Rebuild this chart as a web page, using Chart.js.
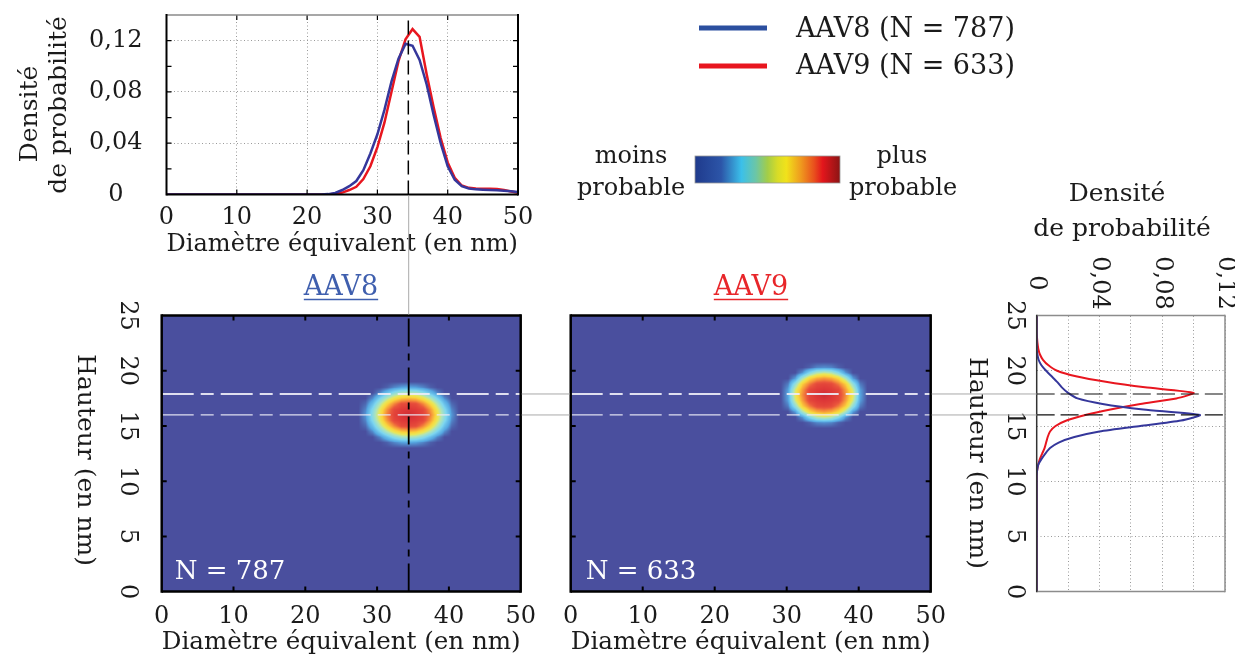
<!DOCTYPE html>
<html lang="fr"><head><meta charset="utf-8"><title>AAV8 / AAV9</title>
<script src="https://cdn.jsdelivr.net/npm/chart.js@4/dist/chart.umd.min.js"></script>
<style>
html,body{margin:0;padding:0;background:#fff;}
#wrap{position:relative;width:1235px;height:657px;overflow:hidden;background:#fff;}
#wrap canvas{position:absolute;left:0;top:0;}
</style></head><body><div id="wrap">
<canvas id="cTop" width="1235" height="657"></canvas>
<canvas id="cH8" width="1235" height="657"></canvas>
<canvas id="cH9" width="1235" height="657"></canvas>
<canvas id="cRight" width="1235" height="657"></canvas>
<canvas id="cOver" width="1235" height="657"></canvas>
</div>
<script>
// ================= DATA =================
const diameters = [0,1,2,3,4,5,6,7,8,9,10,11,12,13,14,15,16,17,18,19,20,21,22,23,24,25,26,27,28,29,30,31,32,33,34,35,36,37,38,39,40,41,42,43,44,45,46,47,48,49,50];
const densDiamAAV8 = [0,0,0,0,0,0,0,0,0,0,0,0,0,0,0,0,0,0,0,0,0,0,0,0.0003,0.0012,0.0035,0.0065,0.0105,0.019,0.032,0.047,0.066,0.088,0.106,0.1175,0.116,0.105,0.086,0.062,0.040,0.022,0.0115,0.0065,0.0047,0.004,0.0037,0.0035,0.0033,0.003,0.0025,0.002];
const densDiamAAV9 = [0,0,0,0,0,0,0,0,0,0,0,0,0,0,0,0,0,0,0,0,0,0,0,0,0.0005,0.0015,0.0035,0.006,0.012,0.022,0.037,0.056,0.080,0.104,0.121,0.129,0.123,0.094,0.068,0.044,0.025,0.013,0.007,0.0052,0.0047,0.0045,0.0044,0.0042,0.0036,0.0024,0.0013];

const heights = [0,0.5,1,1.5,2,2.5,3,3.5,4,4.5,5,5.5,6,6.5,7,7.5,8,8.5,9,9.5,10,10.5,11,11.5,12,12.5,13,13.5,14,14.5,15,15.5,16,16.5,17,17.5,18,18.5,19,19.5,20,20.5,21,21.5,22,22.5,23,23.5,24,24.5,25];
const densHeightAAV8 = [0,0,0,0,0,0,0,0,0,0,0,0,0,0,0,0,0,0,0,0,0,0,0.0003,0.001,0.003,0.0055,0.0085,0.014,0.024,0.040,0.066,0.092,0.104,0.068,0.042,0.026,0.020,0.016,0.013,0.0095,0.006,0.003,0.0012,0.0004,0,0,0,0,0,0,0];
const densHeightAAV9 = [0,0,0,0,0,0,0,0,0,0,0,0,0,0,0,0,0,0,0,0,0,0,0.0003,0.001,0.002,0.0035,0.005,0.006,0.007,0.0085,0.012,0.019,0.031,0.047,0.066,0.089,0.100,0.069,0.044,0.025,0.013,0.0075,0.004,0.002,0.001,0.0005,0.0002,0,0,0,0];

const modeDiameter = 34.4;          // diamètre le plus probable (AAV8)
const modeHeights = [16.0, 17.9];   // hauteur la plus probable : AAV8, AAV9

const diameterTicks = [0,10,20,30,40,50];
const heightTicks = [0,5,10,15,20,25];
const densityTicks = [0,0.04,0.08,0.12];
const densityGridStep = 0.02;

// 2D probability maps (relative level 0-10), rows listed from top (high) to bottom
const mapXAAV8 = [27.4,28.4,29.4,30.4,31.4,32.4,33.4,34.4,35.4,36.4,37.4,38.4,39.4,40.4,41.4];
const mapYAAV8 = [19.0,18.5,18.0,17.5,17.0,16.5,16.0,15.5,15.0,14.5,14.0,13.5,13.0];
const mapAAV8 = [
 [0,0,0,0,0,0,0,0,0,0,0,0,0,0,0],
 [0,0,0,0,0.2,0.6,0.9,1.0,0.9,0.6,0.2,0,0,0,0],
 [0,0,0,0.6,1.6,2.6,3.3,3.5,3.3,2.6,1.6,0.6,0,0,0],
 [0,0,0.7,2.1,3.6,4.9,5.8,6.1,5.8,4.9,3.6,2.1,0.7,0,0],
 [0,0.3,1.6,3.5,5.4,7.1,8.4,8.6,8.4,7.1,5.4,3.5,1.6,0.3,0],
 [0,0.6,2.4,4.5,6.8,8.6,9.1,9.3,9.1,8.6,6.8,4.5,2.4,0.6,0],
 [0,0.8,2.7,4.9,7.3,8.8,9.4,10,9.4,8.8,7.3,4.9,2.7,0.8,0],
 [0,0.6,2.4,4.5,6.8,8.6,9.1,9.3,9.1,8.6,6.8,4.5,2.4,0.6,0],
 [0,0.3,1.6,3.5,5.4,7.1,8.4,8.6,8.4,7.1,5.4,3.5,1.6,0.3,0],
 [0,0,0.7,2.1,3.6,4.9,5.8,6.1,5.8,4.9,3.6,2.1,0.7,0,0],
 [0,0,0,0.6,1.6,2.6,3.3,3.5,3.3,2.6,1.6,0.6,0,0,0],
 [0,0,0,0,0.2,0.6,0.9,1.0,0.9,0.6,0.2,0,0,0,0],
 [0,0,0,0,0,0,0,0,0,0,0,0,0,0,0]
];
const mapXAAV9 = [28.2,29.2,30.2,31.2,32.2,33.2,34.2,35.2,36.2,37.2,38.2,39.2,40.2,41.2,42.2];
const mapYAAV9 = [20.8,20.3,19.8,19.3,18.8,18.3,17.8,17.3,16.8,16.3,15.8,15.3,14.8];
const mapAAV9 = [
 [0,0,0,0,0,0,0,0,0,0,0,0,0,0,0],
 [0,0,0,0,0,0.2,0.6,0.7,0.6,0.2,0,0,0,0,0],
 [0,0,0,0,0.8,2.4,3.6,4.0,3.6,2.4,0.8,0,0,0,0],
 [0,0,0,0.9,3.4,5.4,6.4,6.8,6.4,5.4,3.4,0.9,0,0,0],
 [0,0,0.5,2.8,5.6,7.3,8.5,8.7,8.5,7.3,5.6,2.8,0.5,0,0],
 [0,0,0.9,4.1,6.6,8.6,9.1,9.3,9.1,8.6,6.6,4.1,0.9,0,0],
 [0,0,1.0,4.6,7.0,8.7,9.4,10,9.4,8.7,7.0,4.6,1.0,0,0],
 [0,0,0.9,4.1,6.6,8.6,9.1,9.3,9.1,8.6,6.6,4.1,0.9,0,0],
 [0,0,0.5,2.8,5.6,7.3,8.5,8.7,8.5,7.3,5.6,2.8,0.5,0,0],
 [0,0,0,0.9,3.4,5.4,6.4,6.8,6.4,5.4,3.4,0.9,0,0,0],
 [0,0,0,0,0.8,2.4,3.6,4.0,3.6,2.4,0.8,0,0,0,0],
 [0,0,0,0,0,0.2,0.6,0.7,0.6,0.2,0,0,0,0,0],
 [0,0,0,0,0,0,0,0,0,0,0,0,0,0,0]
];

// ================= STYLE =================
const FONT = "'DejaVu Serif', serif";
const TXT = '#1b1b1b';
const BLUE = '#35379b', RED = '#e8161f', LEG_BLUE = '#2b4f9f';
const HEAT_BG = [74,79,158];
const HEAT_STOPS = [[0,[74,79,158]],[1,[86,168,226]],[2.2,[125,214,240]],[3.5,[175,228,185]],[4.5,[232,231,90]],[5.5,[250,212,60]],[6.8,[246,150,58]],[8,[234,86,60]],[9.2,[222,56,56]],[10,[204,44,50]]];
Chart.defaults.font.family = FONT;
Chart.defaults.color = TXT;

function heatColor(v){
  if (v <= 0) return HEAT_STOPS[0][1];
  for (let i=1;i<HEAT_STOPS.length;i++){
    const [v1,c1] = HEAT_STOPS[i], [v0,c0] = HEAT_STOPS[i-1];
    if (v <= v1){ const t=(v-v0)/(v1-v0); return [0,1,2].map(k=>Math.round(c0[k]+(c1[k]-c0[k])*t)); }
  }
  return HEAT_STOPS[HEAT_STOPS.length-1][1];
}
function sample(g, r, c){
  if (r<0||c<0||r>g.length-1||c>g[0].length-1) return 0;
  const r0=Math.floor(r), c0=Math.floor(c), r1=Math.min(r0+1,g.length-1), c1=Math.min(c0+1,g[0].length-1);
  const fr=r-r0, fc=c-c0;
  return (g[r0][c0]*(1-fc)+g[r0][c1]*fc)*(1-fr)+(g[r1][c0]*(1-fc)+g[r1][c1]*fc)*fr;
}
function heatPlugin(xs, ys, grid){
  return {id:'heat', beforeDatasetsDraw(chart){
    const {ctx, chartArea:a, scales:{x,y}} = chart;
    ctx.save();
    ctx.fillStyle = 'rgb('+HEAT_BG.join(',')+')';
    ctx.fillRect(a.left, a.top, a.right-a.left, a.bottom-a.top);
    const sx = xs[1]-xs[0], sy = ys[1]-ys[0];
    const pxA=Math.floor(x.getPixelForValue(xs[0])), pxB=Math.ceil(x.getPixelForValue(xs[xs.length-1]));
    const pyA=Math.floor(y.getPixelForValue(ys[0])), pyB=Math.ceil(y.getPixelForValue(ys[ys.length-1]));
    const w=pxB-pxA, h=pyB-pyA;
    const off=document.createElement('canvas'); off.width=w; off.height=h;
    const octx=off.getContext('2d'); const img=octx.createImageData(w,h);
    for (let j=0;j<h;j++){
      const fr=(y.getValueForPixel(pyA+j+0.5)-ys[0])/sy;
      for (let i=0;i<w;i++){
        const fc=(x.getValueForPixel(pxA+i+0.5)-xs[0])/sx;
        const c=heatColor(sample(grid,fr,fc)); const k=(j*w+i)*4;
        img.data[k]=c[0]; img.data[k+1]=c[1]; img.data[k+2]=c[2]; img.data[k+3]=255;
      }
    }
    octx.putImageData(img,0,0);
    ctx.drawImage(off,pxA,pyA);
    ctx.restore();
  }};
}
function framePlugin(o){
  return {id:'frame', afterDatasetsDraw(chart){
    const {ctx, chartArea:a, scales} = chart;
    ctx.save();
    if (o.ticksX || o.ticksY){
      ctx.strokeStyle='#000'; ctx.lineWidth=o.tickWidth||1.5; ctx.beginPath();
      (o.ticksX||[]).forEach(v=>{const p=scales.x.getPixelForValue(v); ctx.moveTo(p,a.bottom); ctx.lineTo(p,a.bottom-o.tickLen); ctx.moveTo(p,a.top); ctx.lineTo(p,a.top+o.tickLen);});
      (o.ticksY||[]).forEach(v=>{const p=scales.y.getPixelForValue(v); ctx.moveTo(a.left,p); ctx.lineTo(a.left+o.tickLen,p); ctx.moveTo(a.right,p); ctx.lineTo(a.right-o.tickLen,p);});
      ctx.stroke();
    }
    const seg=(x1,y1,x2,y2,s)=>{ctx.strokeStyle=s[0]; ctx.lineWidth=s[1]; ctx.beginPath(); ctx.moveTo(x1,y1); ctx.lineTo(x2,y2); ctx.stroke();};
    seg(a.left,a.top,a.right,a.top,o.top);
    seg(a.left,a.bottom,a.right,a.bottom,o.bottom);
    seg(a.left,a.top-o.left[1]/2,a.left,a.bottom+o.left[1]/2,o.left);
    seg(a.right,a.top-o.right[1]/2,a.right,a.bottom+o.right[1]/2,o.right);
    ctx.restore();
  }};
}
const lineDS = (pts, color, width, dash, order) => ({data:pts, showLine:true, borderColor:color, borderWidth:width, borderDash:dash||[], pointRadius:0, order:order||0});
const fnum = v => v===0 ? '0' : v.toFixed(2).replace('.',',');
const baseOpts = {responsive:false, animation:false, events:[], plugins:{legend:{display:false}, tooltip:{enabled:false}}};

// ================= TOP : densité vs diamètre =================
const topChart = new Chart(document.getElementById('cTop'), {
  type:'scatter',
  data:{datasets:[
    lineDS(diameters.map((d,i)=>({x:d,y:densDiamAAV8[i]})), BLUE, 2.5, null, 1),
    lineDS(diameters.map((d,i)=>({x:d,y:densDiamAAV9[i]})), RED, 2.5, null, 2),
    lineDS([{x:modeDiameter,y:0},{x:modeDiameter,y:0.14}], '#000', 1.5, [14,6], 0)
  ]},
  options:Object.assign({}, baseOpts, {
    layout:{padding:{left:0, top:15, right:717, bottom:398}},
    scales:{
      x:{type:'linear', min:0, max:50,
         ticks:{stepSize:10, padding:9, maxRotation:0, font:{size:24}, color:TXT},
         grid:{color:'#9a9a9a', lineWidth:1, drawTicks:false}, border:{display:false, dash:[1,2.5]},
         title:{display:true, text:'Diamètre équivalent (en nm)', font:{size:25, lineHeight:1.2}, padding:{top:0,bottom:0}, color:TXT},
         afterFit:s=>{s.height=64.5;}},
      y:{type:'linear', min:0, max:0.14,
         ticks:{stepSize:densityGridStep, padding:0, crossAlign:'center', font:{size:24}, color:TXT,
                callback:v=>densityTicks.some(t=>Math.abs(t-v)<1e-6)?fnum(v):''},
         grid:{color:'#9a9a9a', lineWidth:1, drawTicks:true, tickLength:24, tickColor:'rgba(0,0,0,0)'}, border:{display:false, dash:[1,2.5]},
         afterFit:s=>{s.width=166.5;}}
    }
  }),
  plugins:[framePlugin({top:['#8a8a8a',1.5], bottom:['#000',2], left:['#000',2], right:['#000',2], ticksX:[10,20,30,40], ticksY:[0.02,0.04,0.06,0.08,0.1,0.12], tickLen:5, tickWidth:1.2})]
});

// ================= HEATMAPS =================
function heatChart(id, left, right, xs, ys, grid, showY, showV){
  const ds = modeHeights.map((h,i)=>lineDS([{x:0,y:h},{x:50,y:h}], 'rgba(236,236,246,0.92)', i===1?2:1.3, [32,7,13,7], 1));
  if (showV) ds.push(lineDS([{x:modeDiameter,y:0},{x:modeDiameter,y:25}], '#000', 1.8, [28,7,7,7], 0));
  return new Chart(document.getElementById(id), {
    type:'scatter', data:{datasets:ds},
    options:Object.assign({}, baseOpts, {
      layout:{padding:{left:0, top:315.6, right:1235-right, bottom:2.4}},
      scales:{
        x:{type:'linear', min:0, max:50,
           ticks:{stepSize:10, padding:11, maxRotation:0, font:{size:24}, color:TXT},
           grid:{display:false, drawTicks:false}, border:{display:false},
           title:{display:true, text:'Diamètre équivalent (en nm)', font:{size:25, lineHeight:1.0}, padding:{top:0,bottom:0}, color:TXT},
           afterFit:s=>{s.height=63;}},
        y:{type:'linear', min:0, max:25,
           ticks:{display:showY, stepSize:5, padding:18.8, crossAlign:'center', minRotation:-90, maxRotation:-90, font:{size:24}, color:TXT},
           grid:{display:false, drawTicks:false}, border:{display:false},
           afterFit:s=>{s.width=left;}}
      }
    }),
    plugins:[heatPlugin(xs, ys, grid), framePlugin({top:['#000',2.5], bottom:['#000',2.5], left:['#000',2.5], right:['#000',2.5], ticksX:[10,20,30,40], ticksY:[5,10,15,20], tickLen:5, tickWidth:2})]
  });
}
const h8 = heatChart('cH8', 161.7, 520.7, mapXAAV8, mapYAAV8, mapAAV8, true, true);
const h9 = heatChart('cH9', 570.7, 930.7, mapXAAV9, mapYAAV9, mapAAV9, false, false);

// ================= RIGHT : densité vs hauteur =================
const rightChart = new Chart(document.getElementById('cRight'), {
  type:'scatter',
  data:{datasets:[
    lineDS(heights.map((h,i)=>({x:densHeightAAV8[i],y:h})), BLUE, 2, null, 1),
    lineDS(heights.map((h,i)=>({x:densHeightAAV9[i],y:h})), RED, 2, null, 2),
    ...modeHeights.map(h=>lineDS([{x:0,y:h},{x:0.12,y:h}], '#111', 1.2, [18,6], 0))
  ].map(d=>Object.assign(d,{tension:0.2}))},
  options:Object.assign({}, baseOpts, {
    layout:{padding:{left:0, top:0, right:10, bottom:65.4}},
    scales:{
      x:{type:'linear', position:'top', min:0, max:0.12,
         ticks:{display:false, stepSize:densityGridStep},
         grid:{color:'#9a9a9a', lineWidth:1, drawTicks:false}, border:{display:false, dash:[1,2.5]},
         afterFit:s=>{s.height=315.6;}},
      y:{type:'linear', min:0, max:25,
         ticks:{stepSize:5, padding:7.4, crossAlign:'center', minRotation:-90, maxRotation:-90, font:{size:24}, color:TXT},
         grid:{color:'#9a9a9a', lineWidth:1, drawTicks:false}, border:{display:false, dash:[1,2.5]},
         afterFit:s=>{s.width=1036.7;}}
    }
  }),
  plugins:[framePlugin({top:['#8c8c8c',1.5], bottom:['#8c8c8c',1.5], left:['#333',1.5], right:['#8c8c8c',1.5]})]
});

// ================= OVERLAY : liens, textes, légende, barre de couleur =================
const ov = document.getElementById('cOver').getContext('2d');
function txt(t, x, y, o){
  o = o||{};
  ov.save();
  ov.font = (o.size||24)+'px '+FONT;
  ov.fillStyle = o.color||TXT;
  ov.textAlign = o.align||'center';
  ov.textBaseline = o.baseline||'alphabetic';
  ov.translate(x,y);
  if (o.rot) ov.rotate(o.rot);
  ov.fillText(t,0,0);
  ov.restore();
}
// connecting guide lines
ov.save();
ov.strokeStyle='#a9a9a9'; ov.lineWidth=1; ov.beginPath();
const vx = h8.scales.x.getPixelForValue(modeDiameter);
ov.moveTo(vx, topChart.chartArea.bottom+1); ov.lineTo(vx, h8.chartArea.top-1);
modeHeights.forEach(h=>{
  const py = h8.scales.y.getPixelForValue(h);
  ov.moveTo(h8.chartArea.right+1, py); ov.lineTo(h9.chartArea.left-1, py);
  ov.moveTo(h9.chartArea.right+1, py); ov.lineTo(rightChart.chartArea.left, py);
});
ov.stroke(); ov.restore();

// top chart y title
txt('Densité', 37, 114, {size:25, rot:-Math.PI/2});
txt('de probabilité', 66, 105, {size:25, rot:-Math.PI/2});
// legend
ov.save(); ov.lineWidth=5;
ov.strokeStyle=LEG_BLUE; ov.beginPath(); ov.moveTo(699,28); ov.lineTo(767,28); ov.stroke();
ov.strokeStyle=RED; ov.beginPath(); ov.moveTo(699,66); ov.lineTo(767,66); ov.stroke();
ov.restore();
txt('AAV8 (N = 787)', 796, 37, {size:27, align:'left'});
txt('AAV9 (N = 633)', 796, 74, {size:27, align:'left'});
// colour bar
(function(){
  const g = ov.createLinearGradient(695,0,840,0);
  [[0,'#1f3a8c'],[0.18,'#2c55a8'],[0.32,'#3bc0ea'],[0.42,'#6cc6a6'],[0.5,'#a3cd48'],[0.57,'#d8dc27'],[0.63,'#f1e21b'],[0.73,'#ef9a1e'],[0.82,'#e9511d'],[0.88,'#e3161c'],[1,'#8b1414']].forEach(s=>g.addColorStop(s[0],s[1]));
  ov.fillStyle=g; ov.fillRect(695,156,145,27);
  ov.strokeStyle='#9a9a9a'; ov.lineWidth=0.8; ov.strokeRect(695,156,145,27);
})();
txt('moins', 631, 163, {size:24});
txt('probable', 631, 195, {size:24});
txt('plus', 902, 163, {size:24});
txt('probable', 903, 195, {size:24});
// heatmap titles
function underTitle(t, cx, color){
  txt(t, cx, 295, {size:27, color:color});
  ov.save(); ov.font='27px '+FONT; const w=ov.measureText(t).width;
  ov.strokeStyle=color; ov.lineWidth=1.4; ov.beginPath(); ov.moveTo(cx-w/2,299.5); ov.lineTo(cx+w/2,299.5); ov.stroke(); ov.restore();
}
underTitle('AAV8', 341, '#3f5fae');
underTitle('AAV9', 751, '#e8262a');
txt('N = 787', h8.chartArea.left+13, 579, {size:26, align:'left', color:'#ffffff'});
txt('N = 633', h9.chartArea.left+15, 579, {size:26, align:'left', color:'#ffffff'});
txt('Hauteur (en nm)', 78, 460, {size:25, rot:Math.PI/2});
// right chart texts
txt('Hauteur (en nm)', 970, 463, {size:25, rot:Math.PI/2});
txt('Densité', 1117, 201, {size:25});
txt('de probabilité', 1122, 236, {size:25});
densityTicks.forEach(v=>{
  txt(fnum(v), rightChart.scales.x.getPixelForValue(v), 283, {size:24, rot:Math.PI/2, baseline:'middle'});
});
</script>
</body></html>
